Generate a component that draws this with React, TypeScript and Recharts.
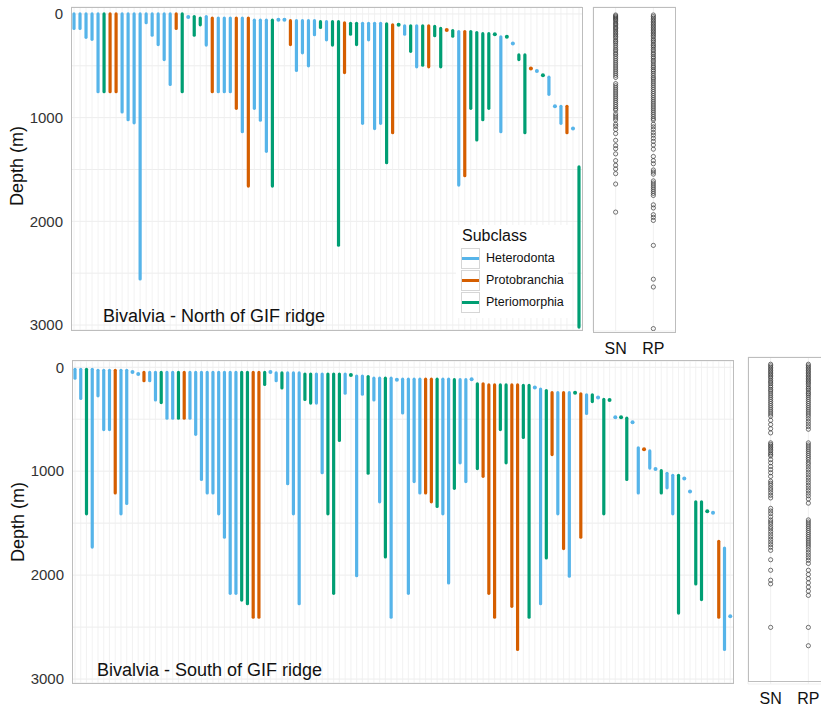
import React from "react"
import { BarChart, Bar, XAxis, YAxis, CartesianGrid, ScatterChart, Scatter } from "recharts"

// H = Heterodonta, P = Protobranchia, T = Pteriomorphia
const COLORS: Record<string, string> = { H: "#56B4E9", P: "#D55E00", T: "#009E73" }
const FONT = "'Liberation Sans', Arial, sans-serif"

// North of GIF ridge: depth range per species (m)
const northCls = ("HHHHHTPPHH" + "HHHHHHHPTH" + "TTHPHHHPHP" + "HHHTHHPHHH" + "HTHTTPTTHH" +
  "HHTPTHTHTP" + "TTPTHPTTTT" + "THTHTTPHTH" + "HHPHT").split("")
const northLo = [
  0, 0, 0, 0, 0, 0, 0, 0, 0, 0,
  0, 0, 0, 0, 0, 0, 0, 0, 0, 30,
  25, 40, 25, 40, 40, 40, 40, 40, 40, 40,
  60, 60, 60, 60, 55, 55, 65, 65, 65, 65,
  65, 75, 75, 75, 75, 85, 90, 90, 90, 90,
  90, 90, 95, 105, 105, 115, 115, 115, 115, 115,
  120, 140, 155, 160, 170, 170, 170, 180, 190, 190,
  195, 220, 220, 285, 395, 395, 525, 550, 590, 610,
  890, 890, 890, 1105, 1475,
]
const northHi = [
  140, 140, 225, 245, 750, 750, 750, 750, 945, 1020,
  1050, 2555, 85, 205, 295, 440, 680, 140, 750, 30,
  205, 105, 300, 750, 750, 750, 750, 910, 1135, 1660,
  910, 1025, 1325, 1660, 55, 55, 295, 545, 375, 500,
  200, 130, 250, 300, 2230, 565, 195, 295, 1055, 250,
  1105, 1055, 1435, 1145, 105, 195, 360, 510, 495, 510,
  210, 510, 155, 215, 1650, 1560, 910, 1215, 1020, 910,
  195, 1135, 220, 285, 440, 1145, 525, 550, 590, 775,
  890, 1055, 1145, 1105, 3020,
]

// South of GIF ridge
const southCls = ("HHTHHHHPHH" + "HHPHHTHHTP" + "HHHHHHHHHT" + "TPPTHHTHHH" + "TTHHTTTHTH" +
  "HTHHTHHHHH" + "HPPTHHTHHH" + "TPPPTTPPTT" + "HHTPHPHTPH" + "THTTHTTHHP" + "HHTHHTHHTT" + "THPHH").split("")
const southLo = [
  20, 20, 20, 20, 30, 30, 30, 30, 30, 30,
  45, 65, 50, 50, 50, 50, 50, 50, 50, 50,
  50, 50, 50, 50, 50, 50, 50, 50, 50, 50,
  50, 50, 50, 50, 45, 55, 55, 55, 55, 55,
  65, 65, 65, 65, 65, 65, 65, 65, 75, 85,
  85, 90, 105, 105, 105, 105, 120, 115, 115, 115,
  115, 115, 115, 115, 115, 115, 120, 120, 120, 115,
  160, 160, 170, 170, 170, 170, 170, 170, 175, 175,
  195, 210, 225, 245, 245, 245, 245, 245, 255, 265,
  265, 290, 310, 315, 480, 480, 490, 530, 775, 790,
  805, 980, 995, 1020, 1040, 1040, 1070, 1195, 1295, 1295,
  1385, 1400, 1675, 1740, 2395,
]
const southHi = [
  105, 300, 1410, 1730, 275, 600, 600, 1210, 1410, 1310,
  45, 65, 130, 130, 315, 340, 490, 490, 490, 490,
  490, 645, 1080, 1210, 1210, 1410, 1635, 2175, 2175, 2240,
  2275, 2405, 2405, 165, 45, 130, 200, 1120, 1410, 2275,
  310, 345, 345, 1015, 1410, 2175, 705, 250, 75, 2005,
  260, 1020, 315, 1295, 1825, 2405, 120, 440, 2175, 1100,
  1210, 1210, 1295, 1340, 1410, 2075, 1165, 920, 1100, 115,
  975, 1050, 2175, 2405, 600, 920, 2300, 2715, 675, 2405,
  195, 2275, 1835, 840, 1410, 1745, 2010, 245, 1635, 445,
  330, 290, 1410, 315, 480, 480, 1080, 530, 1210, 790,
  970, 980, 1210, 1160, 1410, 2365, 1070, 1195, 2085, 2235,
  1385, 1400, 2405, 2715, 2395,
]

// side strips: recorded depths (m)
const northSN = [10, 20, 30, 40, 50, 60, 75, 90, 100, 115, 130, 140, 155, 170, 185, 200, 215, 230, 250, 265,
  280, 300, 320, 340, 355, 375, 390, 410, 430, 450, 470, 490, 510, 530, 550, 570, 590, 610, 670, 690, 710,
  730, 750, 770, 790, 810, 830, 850, 870, 890, 910, 925, 960, 980, 1000, 1020, 1060, 1080, 1110, 1150, 1215,
  1265, 1295, 1345, 1410, 1455, 1490, 1535, 1635, 1905]
const northRP = [10, 25, 40, 55, 70, 85, 100, 115, 130, 145, 160, 175, 190, 205, 220, 240, 255, 270, 290, 305,
  320, 340, 355, 375, 390, 410, 425, 445, 460, 480, 500, 515, 535, 550, 570, 590, 610, 625, 645, 665, 685, 705,
  725, 745, 765, 785, 805, 825, 845, 865, 885, 905, 925, 945, 965, 985, 1005, 1020, 1060, 1085, 1110, 1140,
  1165, 1195, 1225, 1260, 1300, 1370, 1410, 1440, 1500, 1520, 1540, 1605, 1625, 1645, 1665, 1685, 1705, 1725,
  1745, 1835, 1865, 1930, 1955, 1985, 2225, 2550, 2625, 3025]
const southSN = [5, 20, 35, 50, 65, 80, 95, 110, 125, 140, 160, 175, 190, 210, 225, 245, 260, 280, 300, 320,
  340, 360, 380, 400, 420, 440, 460, 480, 500, 540, 580, 620, 660, 755, 770, 785, 800, 815, 830, 850, 865, 880,
  915, 945, 980, 1010, 1040, 1075, 1120, 1140, 1160, 1185, 1205, 1230, 1255, 1280, 1380, 1405, 1430, 1460,
  1490, 1510, 1530, 1555, 1575, 1600, 1625, 1650, 1675, 1700, 1725, 1750, 1780, 1870, 1970, 2065, 2100, 2515]
const southRP = [5, 20, 35, 50, 65, 80, 95, 110, 125, 140, 155, 170, 185, 200, 220, 235, 250, 270, 285, 300,
  320, 340, 360, 380, 400, 420, 440, 460, 480, 500, 525, 550, 575, 600, 625, 755, 775, 795, 815, 835, 855, 875,
  895, 915, 940, 960, 985, 1010, 1035, 1060, 1085, 1110, 1135, 1160, 1185, 1210, 1235, 1260, 1290, 1330, 1490,
  1510, 1530, 1550, 1570, 1590, 1610, 1630, 1650, 1670, 1690, 1710, 1730, 1750, 1775, 1800, 1825, 1850, 1875,
  1905, 1970, 2010, 2050, 2090, 2130, 2170, 2210, 2515, 2690]

const yTicks = [0, 500, 1000, 1500, 2000, 2500, 3000]
const legendItems = [
  { key: "H", label: "Heterodonta" },
  { key: "P", label: "Protobranchia" },
  { key: "T", label: "Pteriomorphia" },
]

const toRows = (lo: number[], hi: number[], cls: string[]) =>
  lo.map((v, i) => ({ id: i, range: [v, hi[i]], cls: cls[i] }))

const stripRows = (sn: number[], rp: number[]) => [
  ...sn.map((d) => ({ x: 0, y: d })),
  ...rp.map((d) => ({ x: 1, y: d })),
]

function Stick(props: any) {
  const { x, y, width, height } = props
  const cls = props.payload?.cls ?? props.cls
  const cx = x + width / 2
  if (Math.abs(height) < 0.5) {
    // species known from a single depth
    return <circle cx={cx} cy={y} r={2} fill={COLORS[cls]} />
  }
  return (
    <line x1={cx} x2={cx} y1={y} y2={y + height} stroke={COLORS[cls]}
      strokeWidth={3.2} strokeLinecap="round" />
  )
}

// bar background = one vertical grid line per category, drawn under the sticks
function GridLine(props: any) {
  const { x, y, width, height } = props
  const cx = x + width / 2
  return <line x1={cx} x2={cx} y1={y} y2={y + height} stroke="#efefef" strokeWidth={0.8} />
}

function Ring(props: any) {
  return <circle cx={props.cx} cy={props.cy} r={2.1} fill="none" stroke="#3a3a3a" strokeWidth={0.7} />
}

const tickFmt = (v: number) => (v % 1000 === 0 ? String(v) : "")

function RangePanel({ data, left, top, width, height, margin, axisW, domain }: any) {
  return (
    <div style={{ position: "absolute", left, top }}>
      <BarChart width={width} height={height} data={data} margin={margin} barCategoryGap={0}>
        <CartesianGrid stroke="#ebebeb" strokeWidth={0.9} vertical={false} />
        <XAxis dataKey="id" type="category" interval={0} tick={false} axisLine={false} tickLine={false} height={1} />
        <YAxis type="number" reversed domain={domain} ticks={yTicks} tickFormatter={tickFmt}
          allowDataOverflow width={axisW} axisLine={false} tickLine={false}
          tick={{ fontSize: 15, fill: "#333", fontFamily: FONT }} />
        <Bar dataKey="range" shape={<Stick />} background={<GridLine />} isAnimationActive={false} />
      </BarChart>
    </div>
  )
}

function StripPanel({ data, left, top, width, height, margin, domain, labelGap }: any) {
  return (
    <div style={{ position: "absolute", left, top }}>
      <ScatterChart width={width} height={height} margin={margin}>
        <CartesianGrid stroke="#ececec" strokeWidth={0.8} />
        <XAxis type="number" dataKey="x" domain={[-0.6, 1.6]} ticks={[0, 1]}
          tickFormatter={(v: number) => (v === 0 ? "SN" : "RP")} axisLine={false} tickLine={false}
          tickSize={labelGap} height={30} tick={{ fontSize: 16, fill: "#111", fontFamily: FONT }} />
        <YAxis type="number" dataKey="y" reversed domain={domain} ticks={yTicks} allowDataOverflow
          width={1} tick={false} axisLine={false} tickLine={false} />
        <Scatter data={data} shape={<Ring />} isAnimationActive={false} />
      </ScatterChart>
    </div>
  )
}

const frame = (left: number, top: number, w: number, h: number) => (
  <div style={{ position: "absolute", left, top, width: w, height: h, border: "1px solid #bdbdbd", boxSizing: "border-box", pointerEvents: "none" }} />
)

const textStyle: React.CSSProperties = { position: "absolute", fontFamily: FONT, color: "#111", whiteSpace: "nowrap" }

export default function App() {
  return (
    <div style={{ position: "absolute", left: 0, top: 0, width: 821, height: 708, background: "#fff", overflow: "hidden" }}>
      <RangePanel data={toRows(northLo, northHi, northCls)} left={0} top={0} width={590} height={340}
        margin={{ top: 7, right: 8, bottom: 9, left: 0 }} axisW={71} domain={[-67, 3048]} />
      <RangePanel data={toRows(southLo, southHi, southCls)} left={0} top={350} width={745} height={345}
        margin={{ top: 11, right: 12, bottom: 11, left: 0 }} axisW={72} domain={[-60, 3038]} />
      <StripPanel data={stripRows(northSN, northRP)} left={592} top={0} width={84} height={361}
        margin={{ top: 7, right: 0, bottom: 0, left: 0 }} domain={[-67, 3048]} labelGap={10} />
      <StripPanel data={stripRows(southSN, southRP)} left={747} top={350} width={84} height={364}
        margin={{ top: 7, right: 0, bottom: 0, left: 0 }} domain={[-64, 3055]} labelGap={7} />

      {frame(71, 7, 512, 324)}
      {frame(72, 360, 662, 324)}
      {frame(593, 7, 83, 326)}
      {frame(748, 357, 84, 325)}

      <div style={{ ...textStyle, left: 17, top: 166, fontSize: 18, transform: "translate(-50%, -50%) rotate(-90deg)" }}>Depth (m)</div>
      <div style={{ ...textStyle, left: 18, top: 522, fontSize: 18, transform: "translate(-50%, -50%) rotate(-90deg)" }}>Depth (m)</div>
      <div style={{ ...textStyle, left: 103, top: 306, fontSize: 18 }}>Bivalvia - North of GIF ridge</div>
      <div style={{ ...textStyle, left: 97, top: 660, fontSize: 18 }}>Bivalvia - South of GIF ridge</div>

      <div style={{ position: "absolute", left: 456, top: 225, width: 112, height: 93, background: "#fff", fontFamily: FONT }}>
        <div style={{ position: "absolute", left: 6, top: 2, fontSize: 16, color: "#111" }}>Subclass</div>
        {legendItems.map((it, i) => (
          <div key={it.key} style={{ position: "absolute", left: 5, top: 22 + i * 22, height: 22, display: "flex", alignItems: "center" }}>
            <div style={{ width: 19, height: 21, border: "1px solid #d6d6d6", boxSizing: "border-box", display: "flex", alignItems: "center", justifyContent: "center", background: "#fff" }}>
              <div style={{ width: 17, height: 3, background: COLORS[it.key] }} />
            </div>
            <span style={{ marginLeft: 6, fontSize: 12.5, color: "#111" }}>{it.label}</span>
          </div>
        ))}
      </div>
    </div>
  )
}
